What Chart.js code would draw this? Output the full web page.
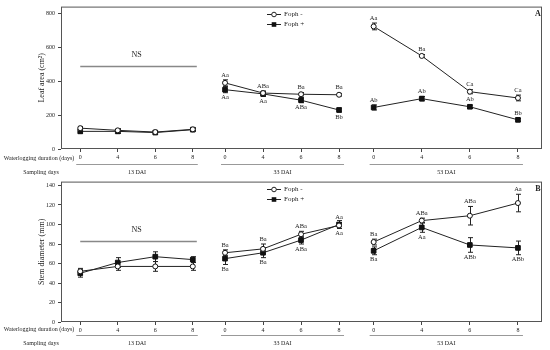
<!DOCTYPE html>
<html>
<head>
<meta charset="utf-8">
<script src="https://cdn.jsdelivr.net/npm/chart.js@4.4.1/dist/chart.umd.min.js"></script>
<style>
  html, body { margin: 0; padding: 0; background: #fff; }
  .panel { position: absolute; left: 0; width: 550px; height: 175px; }
</style>
</head>
<body>
<div class="panel" style="top:0"><canvas id="leafChart" width="550" height="175"></canvas></div>
<div class="panel" style="top:175px"><canvas id="stemChart" width="550" height="175"></canvas></div>
<script>
// positions of the 12 sampling points along the x axis (0-100 layout units)
const xPos = [4, 11.8, 19.6, 27.4, 34.1, 42, 49.9, 57.8, 65, 75, 85, 95];
const dayLabels = ['0', '4', '6', '8', '0', '4', '6', '8', '0', '4', '6', '8'];
const groupNames = ['13 DAI', '33 DAI', '53 DAI'];

// leaf area (cm2)
const leafTicks = [0, 200, 400, 600, 800];
const leafMinus = [123, 110, 100, 116, 390, 330, 323, 320, 723, 549, 338, 301];
const leafPlus = [104, 104, 97, 114, 350, 325, 288, 230, 245, 297, 249, 172];
const leafMinusErr = [10, 10, 8, 8, 18, 12, 10, 8, 20, 8, 12, 17];
const leafPlusErr = [10, 12, 8, 8, 18, 15, 15, 12, 15, 13, 10, 8];
const leafMinusTags = ['', '', '', '', 'Aa', 'ABa', 'Ba', 'Ba', 'Aa', 'Ba', 'Ca', 'Ca'];
const leafPlusTags = ['', '', '', '', 'Aa', 'Aa', 'ABa', 'Bb', 'Ab', 'Ab', 'Ab', 'Bb'];
const leafPlusSide = [0, 0, 0, 0, -1, -1, -1, -1, 1, 1, 1, 1];

// stem diameter (mm)
const stemTicks = [0, 20, 40, 60, 80, 100, 120, 140];
const stemMinus = [52, 57, 57, 57, 71, 75, 90, 99, 82, 104, 109, 122];
const stemPlus = [50, 61, 67, 64, 65, 71, 84, 100, 73, 97, 79, 76];
const stemMinusErr = [3, 4, 5, 4, 3, 5, 3, 3, 3, 2.5, 9.5, 9];
const stemPlusErr = [4, 5, 5, 3, 6, 5, 4, 4, 4, 5, 7.5, 7];
const stemMinusTags = ['', '', '', '', 'Ba', 'Ba', 'ABa', 'Aa', 'Ba', 'ABa', 'ABa', 'Aa'];
const stemPlusTags = ['', '', '', '', 'Ba', 'Ba', 'ABa', 'Aa', 'Ba', 'Aa', 'ABb', 'ABb'];
const stemPlusSide = [0, 0, 0, 0, -1, -1, -1, -1, -1, -1, -1, -1];

const SERIF = '"Liberation Serif", "DejaVu Serif", serif';
const ink = '#222';

// break the line between sampling groups
function toPoints(vals) {
  const pts = [];
  vals.forEach((v, i) => {
    if (i === 4 || i === 8) pts.push({x: (xPos[i - 1] + xPos[i]) / 2, y: null});
    pts.push({x: xPos[i], y: v});
  });
  return pts;
}

const panelDecor = {
  id: 'panelDecor',
  beforeDatasetsDraw(chart, args, o) {
    const {ctx, chartArea: a, scales: {x, y}} = chart;
    ctx.save();
    ctx.strokeStyle = '#555';
    ctx.lineWidth = 1;
    ctx.strokeRect(a.left + 0.5, a.top + 0.5, a.right - a.left - 1, a.bottom - a.top - 1);

    // NS line over the first group
    const nsY = Math.round(y.getPixelForValue(o.nsLevel)) + 0.5;
    const x0 = x.getPixelForValue(xPos[0]), x3 = x.getPixelForValue(xPos[3]);
    ctx.strokeStyle = '#888';
    ctx.lineWidth = 1.3;
    ctx.beginPath(); ctx.moveTo(x0, nsY); ctx.lineTo(x3 + 4, nsY); ctx.stroke();
    ctx.fillStyle = ink;
    ctx.font = '8px ' + SERIF;
    ctx.textAlign = 'center';
    ctx.textBaseline = 'middle';
    ctx.fillText('NS', (x0 + x3) / 2, nsY - 12);

    // error bars
    ctx.strokeStyle = ink;
    ctx.lineWidth = 1;
    chart.data.datasets.forEach(ds => {
      ds.values.forEach((v, i) => {
        const px = Math.round(x.getPixelForValue(xPos[i])) + 0.5;
        const t = y.getPixelForValue(v + ds.errors[i]);
        const b = y.getPixelForValue(v - ds.errors[i]);
        ctx.beginPath();
        ctx.moveTo(px, t); ctx.lineTo(px, b);
        ctx.moveTo(px - 2.5, t); ctx.lineTo(px + 2.5, t);
        ctx.moveTo(px - 2.5, b); ctx.lineTo(px + 2.5, b);
        ctx.stroke();
      });
    });
    ctx.restore();
  },
  afterDatasetsDraw(chart, args, o) {
    const {ctx, chartArea: a, scales: {x, y}} = chart;
    ctx.save();
    ctx.fillStyle = ink;
    ctx.textAlign = 'center';
    ctx.textBaseline = 'middle';

    // significance letters
    ctx.font = '6.5px ' + SERIF;
    chart.data.datasets.forEach(ds => {
      ds.values.forEach((v, i) => {
        if (!ds.tags[i]) return;
        const side = ds.tagSide[i];
        const p = y.getPixelForValue(v);
        const end = y.getPixelForValue(v + side * ds.errors[i]);
        const ty = side > 0 ? Math.min(end - 5, p - 7) : Math.max(end + 5, p + 7);
        ctx.fillText(ds.tags[i], x.getPixelForValue(xPos[i]), ty);
      });
    });

    // legend
    ctx.font = '7px ' + SERIF;
    ctx.textAlign = 'left';
    chart.data.datasets.forEach((ds, k) => {
      const ly = Math.round(a.top + 7.5 + k * 9.5) + 0.5;
      const lx = a.left + 206;
      ctx.strokeStyle = ink;
      ctx.lineWidth = 1;
      ctx.beginPath(); ctx.moveTo(lx, ly); ctx.lineTo(lx + 14, ly); ctx.stroke();
      if (k === 0) {
        ctx.fillStyle = '#fff';
        ctx.beginPath(); ctx.arc(lx + 7, ly, 2.3, 0, Math.PI * 2); ctx.fill(); ctx.stroke();
      } else {
        ctx.fillStyle = '#111';
        ctx.fillRect(lx + 4.7, ly - 2.3, 4.6, 4.6);
      }
      ctx.fillStyle = ink;
      ctx.fillText(ds.label, lx + 17, ly);
    });

    // panel letter
    ctx.font = 'bold 8px ' + SERIF;
    ctx.textAlign = 'center';
    ctx.fillText(o.letter, a.right - 4, a.top + 7);

    // rows under the axis
    ctx.font = '6px ' + SERIF;
    ctx.fillText('Waterlogging duration (days)', 39, a.bottom + o.rows[0]);
    ctx.fillText('Sampling days', 41, a.bottom + o.rows[2]);
    ctx.strokeStyle = '#999';
    ctx.lineWidth = 1;
    const lineY = Math.round(a.bottom + o.rows[1]) + 0.5;
    groupNames.forEach((g, k) => {
      const s = x.getPixelForValue(xPos[k * 4]) - 4;
      const e = x.getPixelForValue(xPos[k * 4 + 3]) + 5;
      ctx.beginPath(); ctx.moveTo(s, lineY); ctx.lineTo(e, lineY); ctx.stroke();
      ctx.fillText(g, (s + e) / 2, a.bottom + o.rows[2]);
    });
    ctx.restore();
  }
};

function makeChart(id, cfg) {
  const mk = (label, vals, errs, tags, side, filled) => ({
    label: label,
    data: toPoints(vals),
    values: vals,
    errors: errs,
    tags: tags,
    tagSide: side,
    borderColor: ink,
    borderWidth: 1,
    spanGaps: false,
    tension: 0,
    pointStyle: filled ? 'rect' : 'circle',
    pointRadius: filled ? 3.3 : 2.5,
    pointBorderWidth: 1,
    pointBorderColor: '#111',
    pointBackgroundColor: filled ? '#111' : '#fff'
  });
  return new Chart(document.getElementById(id), {
    type: 'line',
    data: {
      datasets: [
        mk('Foph -', cfg.minus, cfg.minusErr, cfg.minusTags, cfg.minus.map(() => 1), false),
        mk('Foph +', cfg.plus, cfg.plusErr, cfg.plusTags, cfg.plusSide, true)
      ]
    },
    options: {
      responsive: false,
      animation: false,
      devicePixelRatio: 1,
      layout: {padding: {top: cfg.padTop, right: 8, left: 0, bottom: 0}},
      plugins: {
        legend: {display: false},
        tooltip: {enabled: false},
        panelDecor: {nsLevel: cfg.ns, letter: cfg.letter, rows: cfg.rows}
      },
      scales: {
        x: {
          type: 'linear', min: 0, max: 100,
          afterBuildTicks: s => { s.ticks = xPos.map(v => ({value: v})); },
          afterFit: s => { s.height = cfg.xHeight; },
          ticks: {
            autoSkip: false, maxRotation: 0, padding: 2,
            callback: (v, i) => dayLabels[i],
            color: ink, font: {family: SERIF, size: 6}
          },
          grid: {drawOnChartArea: false, tickLength: 3, color: '#444'},
          border: {display: false}
        },
        y: {
          min: 0, max: cfg.yMax,
          afterBuildTicks: s => { s.ticks = cfg.ticks.map(v => ({value: v})); },
          afterFit: s => { s.width = 61; },
          ticks: {autoSkip: false, padding: 3, color: ink, font: {family: SERIF, size: 6}},
          grid: {drawOnChartArea: false, tickLength: 3, color: '#444'},
          border: {display: false},
          title: {display: true, text: cfg.yTitle, color: ink, font: {family: SERIF, size: 8}, padding: {top: 37}}
        }
      }
    },
    plugins: [panelDecor]
  });
}

makeChart('leafChart', {
  minus: leafMinus, plus: leafPlus, minusErr: leafMinusErr, plusErr: leafPlusErr,
  minusTags: leafMinusTags, plusTags: leafPlusTags, plusSide: leafPlusSide,
  yMax: 840, ticks: leafTicks, yTitle: 'Leaf area (cm²)', ns: 487, letter: 'A',
  padTop: 4, xHeight: 26, rows: [9, 15, 23]
});
makeChart('stemChart', {
  minus: stemMinus, plus: stemPlus, minusErr: stemMinusErr, plusErr: stemPlusErr,
  minusTags: stemMinusTags, plusTags: stemPlusTags, plusSide: stemPlusSide,
  yMax: 144, ticks: stemTicks, yTitle: 'Stem diameter (mm)', ns: 83, letter: 'B',
  padTop: 3, xHeight: 28, rows: [7, 13, 21]
});
</script>
</body>
</html>
